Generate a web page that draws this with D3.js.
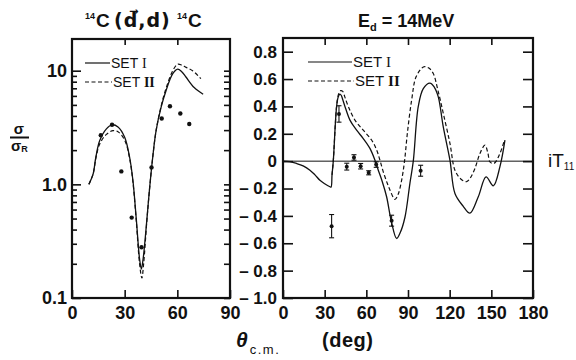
<!DOCTYPE html>
<html>
<head>
<meta charset="utf-8">
<script src="https://cdn.jsdelivr.net/npm/d3@7"></script>
<style>
  body { margin: 0; background: #fff; }
  text { font-family: "Liberation Sans", Arial, sans-serif; fill: #111; }
</style>
</head>
<body>
<div id="container"></div>
<script>
// ---- data ----
// left panel: sigma / sigma_R (log)
var crossTheta  = [16.4, 22.8, 28.1, 34, 39.6, 45.3, 51.1, 55.8, 61.7, 66.8]
var crossValue  = [2.7, 3.34, 1.30, 0.51, 0.28, 1.41, 3.8, 4.86, 4.2, 3.4]

var set1LTheta = [9.6, 12, 13.6, 15.8, 19.6, 22.8, 26.2, 30, 32.8, 34.7, 36.6, 38.5, 39.5, 40.5, 42.6, 44.1, 46, 47.9, 50.8, 53.6, 57.4, 60.2, 62.5, 64.9, 69.6, 74.7]
var set1LValue = [1.0, 1.23, 1.74, 2.43, 3.08, 3.34, 3.2, 2.6, 1.74, 1.08, 0.5, 0.22, 0.18, 0.22, 0.48, 0.89, 1.74, 2.97, 4.8, 6.7, 9.4, 10.3, 9.8, 8.8, 7.1, 6.2]
var set2LTheta = [9.6, 12, 13.6, 15.8, 19.6, 23.4, 26.2, 30, 32.8, 34.7, 36.6, 38.5, 39.8, 40.8, 42.6, 44.1, 46, 47.9, 50.8, 53.6, 57.4, 60.2, 62.5, 65, 68.7, 73.4]
var set2LValue = [1.0, 1.23, 1.7, 2.27, 2.75, 2.97, 2.9, 2.45, 1.7, 1.05, 0.48, 0.2, 0.15, 0.2, 0.47, 0.88, 1.74, 2.97, 4.9, 7.0, 10.0, 11.4, 11.2, 10.7, 10.0, 8.5]

// right panel: iT11
var itTheta = [35.0, 40.3, 45.9, 51.1, 55.9, 61.7, 67.1, 78.2, 99.1]
var itValue = [-0.475, 0.345, -0.04, 0.027, -0.037, -0.085, -0.025, -0.435, -0.07]
var itError = [0.085, 0.06, 0.025, 0.02, 0.02, 0.015, 0.02, 0.04, 0.04]

var set1RTheta = [0, 5, 9.8, 14.5, 19.4, 23, 26.6, 30, 33.8, 34.6, 35.3, 36.2, 38.6, 39.8, 41, 42, 43, 44.6, 48.2, 53, 57.8, 62.6, 66.2, 68.6, 71.5, 74.6, 78, 81.8, 84.5, 87.8, 91.4, 93.8, 97.4, 101, 105.8, 109, 111.8, 115.4, 120.2, 123.8, 129.8, 134.6, 140.6, 146.2, 151.4, 156.2, 159.8]
var set1RValue = [0, -0.004, -0.017, -0.035, -0.066, -0.1, -0.14, -0.165, -0.187, -0.19, -0.1, 0.0, 0.40, 0.47, 0.49, 0.48, 0.45, 0.40, 0.30, 0.226, 0.165, 0.093, 0.007, -0.066, -0.15, -0.26, -0.44, -0.565, -0.52, -0.41, -0.16, 0.0, 0.40, 0.53, 0.57, 0.54, 0.47, 0.25, 0.007, -0.236, -0.33, -0.38, -0.26, -0.115, -0.18, -0.04, 0.153]
var set2RTheta = [35.3, 36.2, 38.6, 40, 41.5, 43, 44.5, 47, 51.8, 57.8, 63.9, 67.5, 69.8, 72.2, 75, 77, 80.6, 83, 85.4, 87.5, 89.5, 92.6, 96, 101.5, 105, 108.2, 111.5, 115.4, 120.2, 123.8, 128, 132.2, 135, 138.2, 141.8, 145.4, 147.5, 149, 151.9, 156.2, 159.4]
var set2RValue = [-0.1, 0.0, 0.40, 0.49, 0.515, 0.51, 0.47, 0.40, 0.30, 0.226, 0.153, 0.08, 0.007, -0.078, -0.16, -0.21, -0.28, -0.24, -0.14, 0.0, 0.2, 0.445, 0.62, 0.69, 0.68, 0.64, 0.52, 0.35, 0.13, -0.066, -0.13, -0.15, -0.12, -0.053, 0.056, 0.117, 0.06, -0.005, -0.017, 0.056, 0.153]

var xTicksL = [0, 30, 60, 90]
var yTicksL = [0.1, 1, 10]
var yLabelsL = ["0.1", "1.0", "10"]
var xTicksR = [0, 30, 60, 90, 120, 150, 180]
var yTicksR = [-1, -0.8, -0.6, -0.4, -0.2, 0, 0.2, 0.4, 0.6, 0.8]

var svg = d3.select("#container").append("svg")
    .attr("width", 576).attr("height", 360)

// scales
var xL = d3.scaleLinear().domain([0, 90]).range([72, 230])
var yL = d3.scaleLog().domain([0.1, 19]).range([298, 39])
var xR = d3.scaleLinear().domain([0, 180]).range([283, 533])
var yR = d3.scaleLinear().domain([-1, 0.9]).range([298, 38])

var minorL = []
;[0.1, 1, 10].forEach(function(d){
  for (var k = 2; k <= 9; k++) if (d * k < 19) minorL.push(d * k)
})

function styleAxis(g, size, bold){
  g.select(".domain").remove()
  g.selectAll(".tick line").attr("stroke", "#111").attr("stroke-width", 1.6)
  g.selectAll(".tick text").style("font-size", size + "px")
    .style("font-weight", bold ? "bold" : "normal").attr("fill", "#111")
}

// ---------- left panel ----------
var gl = svg.append("g")
gl.append("g").attr("transform", "translate(0,298)")
  .call(d3.axisBottom(xL).tickValues(xTicksL).tickSize(-8).tickPadding(8))
  .call(styleAxis, 18, true)
gl.append("g").attr("transform", "translate(0,39)")
  .call(d3.axisTop(xL).tickValues([30, 60]).tickSize(-6).tickFormat(""))
  .call(styleAxis, 18, true)
gl.append("g").attr("transform", "translate(72,0)")
  .call(d3.axisLeft(yL).tickValues(yTicksL).tickSize(-9).tickPadding(5)
    .tickFormat(function(d, i){ return yLabelsL[i] }))
  .call(styleAxis, 18, true)
gl.append("g").attr("transform", "translate(72,0)")
  .call(d3.axisLeft(yL).tickValues(minorL).tickSize(-5).tickFormat(""))
  .call(styleAxis, 10, false)
gl.append("g").attr("transform", "translate(230,0)")
  .call(d3.axisRight(yL).tickValues(yTicksL.concat(minorL)).tickSize(-6).tickFormat(""))
  .call(styleAxis, 10, false)
gl.append("rect").attr("x", 72).attr("y", 39).attr("width", 158).attr("height", 259)
  .attr("fill", "none").attr("stroke", "#111").attr("stroke-width", 2.2)

var lineL = d3.line().x(function(d){ return xL(d[0]) }).y(function(d){ return yL(d[1]) })
  .curve(d3.curveCatmullRom.alpha(0.5))
gl.append("path").attr("d", lineL(d3.zip(set1LTheta, set1LValue)))
  .attr("fill", "none").attr("stroke", "#111").attr("stroke-width", 1.3)
gl.append("path").attr("d", lineL(d3.zip(set2LTheta, set2LValue)))
  .attr("fill", "none").attr("stroke", "#111").attr("stroke-width", 1.2).attr("stroke-dasharray", "4,2.5")
gl.selectAll("circle.pt").data(d3.zip(crossTheta, crossValue)).enter().append("circle")
  .attr("class", "pt").attr("cx", function(d){ return xL(d[0]) }).attr("cy", function(d){ return yL(d[1]) })
  .attr("r", 2.2).attr("fill", "#111")

// legend left
gl.append("line").attr("x1", 85).attr("x2", 110).attr("y1", 63).attr("y2", 63).attr("stroke", "#111").attr("stroke-width", 1.2)
gl.append("line").attr("x1", 85).attr("x2", 112).attr("y1", 82).attr("y2", 82).attr("stroke", "#111").attr("stroke-width", 1.2).attr("stroke-dasharray", "4,2.5")
var lt1 = gl.append("text").attr("x", 111).attr("y", 68).style("font-size", "14px")
lt1.append("tspan").text("SET ")
lt1.append("tspan").style("font-family", "'Liberation Serif', serif").text("I")
var lt2 = gl.append("text").attr("x", 113).attr("y", 87).style("font-size", "14px")
lt2.append("tspan").text("SET ")
lt2.append("tspan").style("font-family", "'Liberation Serif', serif").style("font-weight", "bold").text("II")

// ---------- right panel ----------
var gr = svg.append("g")
gr.append("g").attr("transform", "translate(0,298)")
  .call(d3.axisBottom(xR).tickValues(xTicksR).tickSize(-8).tickPadding(8))
  .call(styleAxis, 18, true)
gr.append("g").attr("transform", "translate(0,38)")
  .call(d3.axisTop(xR).tickValues([30, 60, 90, 120, 150]).tickSize(-7).tickFormat(""))
  .call(styleAxis, 18, true)
gr.append("g").attr("transform", "translate(283,0)")
  .call(d3.axisLeft(yR).tickValues(yTicksR).tickSize(-10).tickPadding(6)
    .tickFormat(function(d){
      if (Math.abs(d) < 1e-9) return "0"
      var s = d3.format(".1f")(Math.abs(d))
      return d < 0 ? "\u2013  " + s : s
    }))
  .call(styleAxis, 17, true)
gr.append("g").attr("transform", "translate(533,0)")
  .call(d3.axisRight(yR).tickValues(yTicksR).tickSize(-10).tickFormat(""))
  .call(styleAxis, 17, true)
gr.append("line").attr("x1", xR(0)).attr("x2", xR(180)).attr("y1", yR(0)).attr("y2", yR(0))
  .attr("stroke", "#111").attr("stroke-width", 1)
gr.append("rect").attr("x", 283).attr("y", 38).attr("width", 250).attr("height", 260)
  .attr("fill", "none").attr("stroke", "#111").attr("stroke-width", 2.2)

var lineR = d3.line().x(function(d){ return xR(d[0]) }).y(function(d){ return yR(d[1]) })
  .curve(d3.curveCatmullRom.alpha(0.5))
gr.append("path").attr("d", lineR(d3.zip(set1RTheta, set1RValue)))
  .attr("fill", "none").attr("stroke", "#111").attr("stroke-width", 1.3)
gr.append("path").attr("d", lineR(d3.zip(set2RTheta, set2RValue)))
  .attr("fill", "none").attr("stroke", "#111").attr("stroke-width", 1.2).attr("stroke-dasharray", "4,2.5")

var pts = d3.zip(itTheta, itValue, itError)
var eb = gr.selectAll("g.eb").data(pts).enter().append("g").attr("class", "eb")
eb.append("line").attr("x1", function(d){ return xR(d[0]) }).attr("x2", function(d){ return xR(d[0]) })
  .attr("y1", function(d){ return yR(d[1] - d[2]) }).attr("y2", function(d){ return yR(d[1] + d[2]) })
  .attr("stroke", "#111").attr("stroke-width", 1.1)
eb.append("line").attr("x1", function(d){ return xR(d[0]) - 2.5 }).attr("x2", function(d){ return xR(d[0]) + 2.5 })
  .attr("y1", function(d){ return yR(d[1] + d[2]) }).attr("y2", function(d){ return yR(d[1] + d[2]) })
  .attr("stroke", "#111").attr("stroke-width", 1.1)
eb.append("line").attr("x1", function(d){ return xR(d[0]) - 2.5 }).attr("x2", function(d){ return xR(d[0]) + 2.5 })
  .attr("y1", function(d){ return yR(d[1] - d[2]) }).attr("y2", function(d){ return yR(d[1] - d[2]) })
  .attr("stroke", "#111").attr("stroke-width", 1.1)
eb.append("circle").attr("cx", function(d){ return xR(d[0]) }).attr("cy", function(d){ return yR(d[1]) })
  .attr("r", 2).attr("fill", "#111")

// legend right
gr.append("line").attr("x1", 308).attr("x2", 352).attr("y1", 62).attr("y2", 62).attr("stroke", "#111").attr("stroke-width", 1.2)
gr.append("line").attr("x1", 308).attr("x2", 354).attr("y1", 81).attr("y2", 81).attr("stroke", "#111").attr("stroke-width", 1.2).attr("stroke-dasharray", "4,2.5")
var rt1 = gr.append("text").attr("x", 353).attr("y", 67).style("font-size", "15px")
rt1.append("tspan").text("SET ")
rt1.append("tspan").style("font-family", "'Liberation Serif', serif").text("I")
var rt2 = gr.append("text").attr("x", 355).attr("y", 86).style("font-size", "15px")
rt2.append("tspan").text("SET ")
rt2.append("tspan").style("font-family", "'Liberation Serif', serif").style("font-weight", "bold").text("II")

// ---------- titles and labels ----------
svg.append("text").attr("x", 85).attr("y", 19).style("font-size", "9px").style("font-weight", "bold").text("14")
svg.append("text").attr("x", 96).attr("y", 27).style("font-size", "19px").style("font-weight", "bold").text("C")
svg.append("text").attr("x", 114).attr("y", 27).style("font-size", "19px").style("font-weight", "bold")
  .style("font-family", "'DejaVu Sans', sans-serif").style("letter-spacing", "1px").text("(d\u20D7,d)")
svg.append("text").attr("x", 177).attr("y", 19).style("font-size", "9px").style("font-weight", "bold").text("14")
svg.append("text").attr("x", 188).attr("y", 27).style("font-size", "19px").style("font-weight", "bold").text("C")

var et = svg.append("text").attr("x", 358).attr("y", 27).style("font-size", "18px").style("font-weight", "bold")
et.append("tspan").text("E")
et.append("tspan").attr("dy", 4).style("font-size", "11px").text("d")
et.append("tspan").attr("dy", -4).text(" = 14MeV")

var it = svg.append("text").attr("x", 548).attr("y", 167).style("font-size", "19px")
it.append("tspan").text("iT")
it.append("tspan").attr("dy", 3).style("font-size", "10px").text("11")

// sigma / sigma_R
svg.append("text").attr("x", 19).attr("y", 134).attr("text-anchor", "middle")
  .style("font-size", "15px").style("font-weight", "bold").text("\u03C3")
svg.append("line").attr("x1", 10).attr("x2", 29).attr("y1", 137.5).attr("y2", 137.5).attr("stroke", "#111").attr("stroke-width", 2)
var sr = svg.append("text").attr("x", 11).attr("y", 151).style("font-size", "15px").style("font-weight", "bold")
sr.append("tspan").text("\u03C3")
sr.append("tspan").attr("dy", 1).style("font-size", "9px").text("R")

var th = svg.append("text").attr("x", 236).attr("y", 347)
th.append("tspan").style("font-size", "21px").style("font-weight", "bold").style("font-style", "italic").text("\u03B8")
th.append("tspan").attr("dy", 7).attr("dx", 2).style("font-size", "13px").style("letter-spacing", "1.5px").text("c.m.")
svg.append("text").attr("x", 322).attr("y", 347).style("font-size", "20px").style("font-weight", "bold")
  .style("letter-spacing", "0.5px").text("(deg)")
</script>
</body>
</html>
